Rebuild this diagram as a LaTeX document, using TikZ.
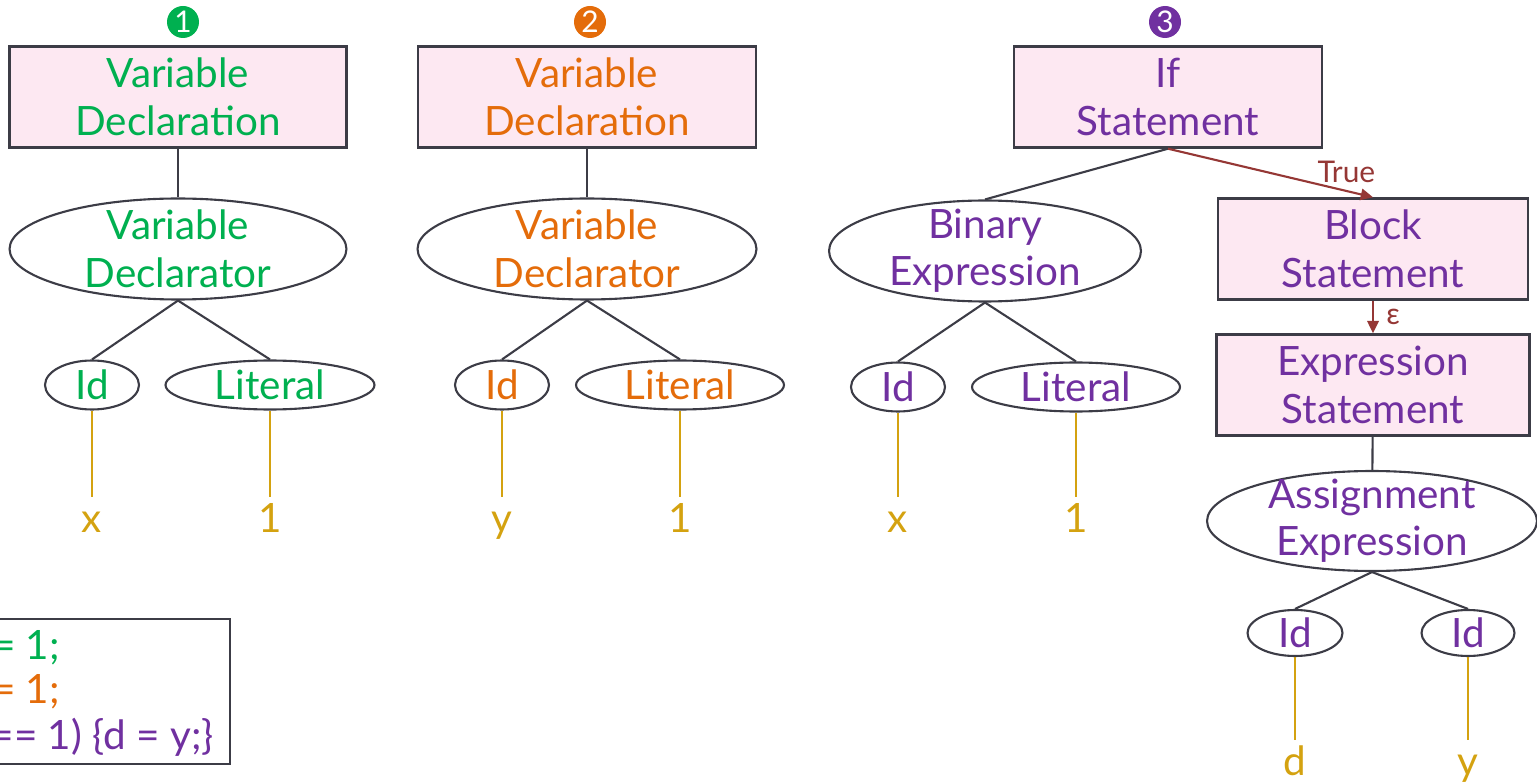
\documentclass[tikz,border=0pt]{standalone}
\usepackage{fontspec}
\setmainfont{Lato}
\usetikzlibrary{shapes.geometric,arrows.meta}

\definecolor{declgreen}{RGB}{0,176,80}
\definecolor{declorange}{RGB}{228,108,10}
\definecolor{ifpurple}{RGB}{112,48,160}
\definecolor{leafgold}{RGB}{212,162,16}
\definecolor{flowred}{RGB}{149,55,53}
\definecolor{stmtpink}{RGB}{253,232,242}
\definecolor{edgegray}{RGB}{60,60,70}

\tikzset{
  stmt/.style={draw=edgegray, line width=1.4pt, fill=stmtpink, inner sep=0pt,
    minimum height=2.02cm, align=center, font=\fontsize{23}{27}\selectfont},
  expr/.style={draw=edgegray, line width=1.2pt, ellipse, inner sep=0pt, minimum height=2.02cm},
  leafnode/.style={draw=edgegray, line width=1.2pt, ellipse, inner sep=0pt, minimum height=0.98cm},
  txt/.style={align=center, font=\fontsize{23}{27}\selectfont},
  tok/.style={text=leafgold, anchor=north, inner sep=4pt, text height=16pt, text depth=4pt,
    font=\fontsize{23}{27}\selectfont},
  badge/.style={circle, inner sep=0pt, minimum size=0.64cm, text=white,
    font=\fontsize{17}{17}\selectfont},
  edge/.style={draw=edgegray, line width=1.2pt},
  leafedge/.style={draw=leafgold, line width=1.2pt},
  flow/.style={draw=flowred, line width=1.2pt, -{Triangle[length=7pt,width=6.5pt]}},
  flowlabel/.style={text=flowred, font=\fontsize{17}{17}\selectfont, inner sep=0pt},
  codeline/.style={anchor=east, font=\fontsize{23}{27}\selectfont}
}

\begin{document}
\begin{tikzpicture}[x=0.02cm, y=-0.02cm]
  \useasboundingbox (0,0) rectangle (1537,783);

  % First declaration
  \node[badge, fill=declgreen] (num1) at (183,22) {1};
  \node[stmt, minimum width=6.74cm, text=declgreen] (decl1) at (178,97) {Variable\\Declaration};
  \node[expr, minimum width=6.74cm, label={[txt, text=declgreen]center:Variable\\Declarator}] (declr1) at (178,249) {};
  \node[leafnode, minimum width=1.88cm, label={[txt, text=declgreen]center:Id}] (id1) at (92,385) {};
  \node[leafnode, minimum width=4.18cm, label={[txt, text=declgreen]center:Literal}] (lit1) at (270,385) {};
  \node[tok] (x1) at (92,497) {x};
  \node[tok] (one1) at (270,497) {1};
  \draw[edge] (decl1) -- (declr1);
  \draw[edge] (declr1.south) -- (id1.north);
  \draw[edge] (declr1.south) -- (lit1.north);
  \draw[leafedge] (id1.south) -- (x1.north);
  \draw[leafedge] (lit1.south) -- (one1.north);

  % Second declaration
  \node[badge, fill=declorange] (num2) at (590,22) {2};
  \node[stmt, minimum width=6.76cm, text=declorange] (decl2) at (587,97) {Variable\\Declaration};
  \node[expr, minimum width=6.78cm, label={[txt, text=declorange]center:Variable\\Declarator}] (declr2) at (587,249) {};
  \node[leafnode, minimum width=1.88cm, label={[txt, text=declorange]center:Id}] (id2) at (502,385) {};
  \node[leafnode, minimum width=4.16cm, label={[txt, text=declorange]center:Literal}] (lit2) at (680,385) {};
  \node[tok] (y2) at (502,497) {y};
  \node[tok] (one2) at (680,497) {1};
  \draw[edge] (decl2) -- (declr2);
  \draw[edge] (declr2.south) -- (id2.north);
  \draw[edge] (declr2.south) -- (lit2.north);
  \draw[leafedge] (id2.south) -- (y2.north);
  \draw[leafedge] (lit2.south) -- (one2.north);

  % If statement: test on the left, block on the right
  \node[badge, fill=ifpurple] (num3) at (1165,22) {3};
  \node[stmt, minimum width=6.16cm, text=ifpurple] (ifst) at (1168,97) {If\\Statement};
  \node[expr, minimum width=6.24cm, label={[txt, text=ifpurple]center:Binary\\Expression}] (bin) at (985,251) {};
  \node[leafnode, minimum width=1.88cm, label={[txt, text=ifpurple]center:Id}] (id3) at (898,387) {};
  \node[leafnode, minimum width=4.16cm, label={[txt, text=ifpurple]center:Literal}] (lit3) at (1076,387) {};
  \node[tok] (x3) at (898,497) {x};
  \node[tok] (one3) at (1076,497) {1};
  \draw[edge] (ifst.south) -- (bin.north);
  \draw[edge] (bin.south) -- (id3.north);
  \draw[edge] (bin.south) -- (lit3.north);
  \draw[leafedge] (id3.south) -- (x3.north);
  \draw[leafedge] (lit3.south) -- (one3.north);

  \node[stmt, minimum width=6.2cm, text=ifpurple] (block) at (1373,249) {Block\\Statement};
  \node[stmt, minimum width=6.26cm, text=ifpurple] (exprst) at (1373,385) {Expression\\Statement};
  \node[expr, minimum width=6.6cm, minimum height=2cm, label={[txt, text=ifpurple]center:Assignment\\Expression}] (assign) at (1372,521) {};
  \node[leafnode, minimum width=1.9cm, minimum height=0.92cm, label={[txt, text=ifpurple]center:Id}] (id4) at (1295,633) {};
  \node[leafnode, minimum width=1.86cm, minimum height=0.92cm, label={[txt, text=ifpurple]center:Id}] (id5) at (1468,633) {};
  \node[tok] (d4) at (1295,740) {d};
  \node[tok] (y5) at (1468,740) {y};
  \draw[flow] (ifst.south) -- node[flowlabel, pos=0.87, above=4pt] {True} (block.north);
  \draw[flow] (block) -- node[flowlabel, right=7pt] {ε} (exprst);
  \draw[edge] (exprst) -- (assign);
  \draw[edge] (assign.south) -- (id4.north);
  \draw[edge] (assign.south) -- (id5.north);
  \draw[leafedge] (id4.south) -- (d4.north);
  \draw[leafedge] (id5.south) -- (y5.north);

  % Source code box
  \node[draw=edgegray, line width=1.4pt, anchor=north east, minimum width=6cm, minimum height=2.9cm] (code) at (231,618) {};
  \node[codeline, text=declgreen] (line1) at (66,648) {= 1;};
  \node[codeline, text=declorange] (line2) at (66,692) {= 1;};
  \node[codeline, text=ifpurple] (line3) at (220,737) {== 1) \{d = y;\}};
\end{tikzpicture}
\end{document}
